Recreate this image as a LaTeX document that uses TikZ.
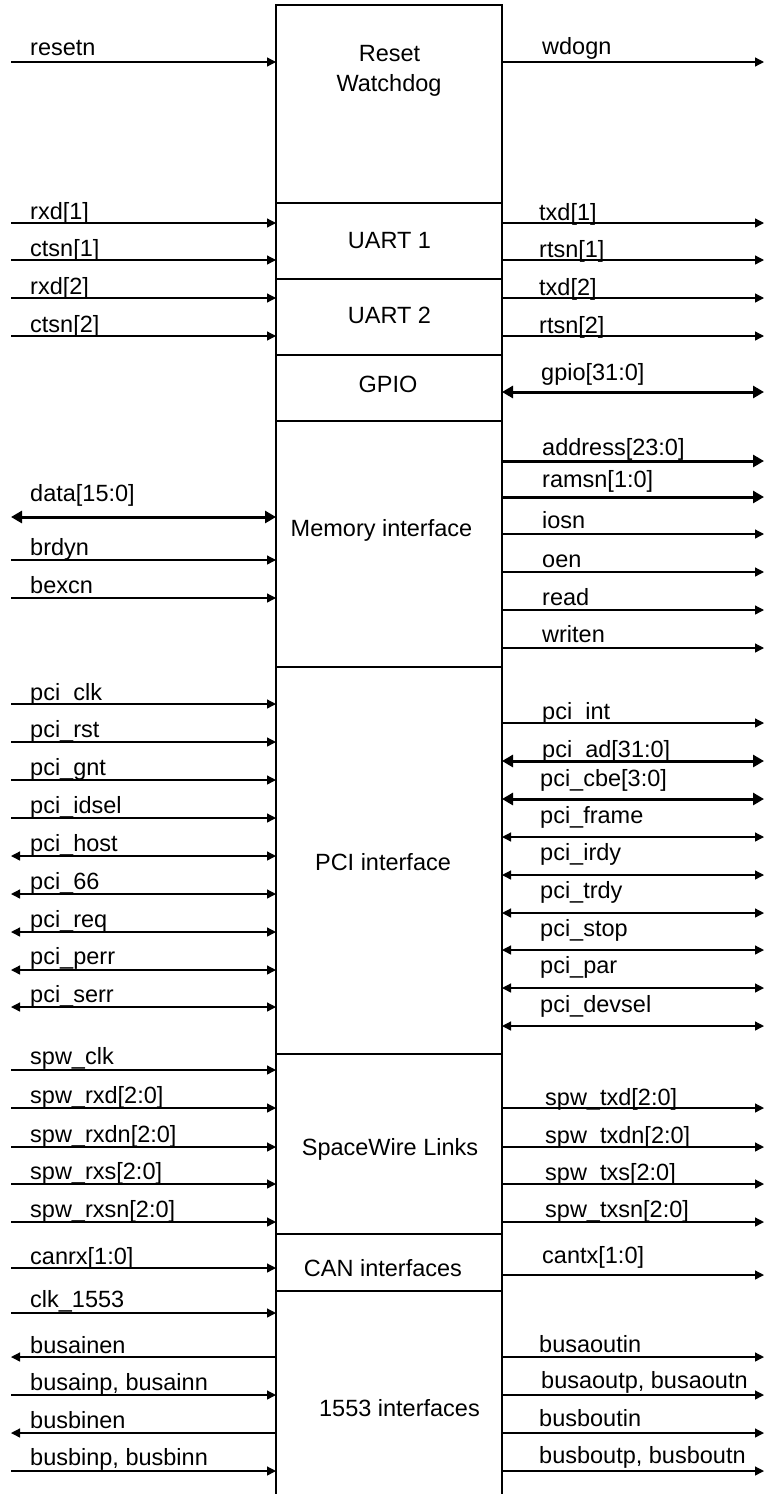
\documentclass[tikz,border=0pt]{standalone}
\usepackage{fontspec}
\setmainfont{Liberation Sans}
\usetikzlibrary{arrows.meta}
\begin{document}
\begin{tikzpicture}[x=1pt,y=-1pt,
  lbl/.style={anchor=base west, inner sep=0pt, font=\fontsize{23.5}{28}\selectfont},
  blk/.style={anchor=base, inner sep=0pt, font=\fontsize{23.5}{28}\selectfont},
  thinline/.style={line width=1.3pt},
  sigin/.style={thinline, -{Triangle[length=9pt,width=9pt]}},
  sigout/.style={thinline, {Triangle[length=9pt,width=9pt]}-},
  sigbi/.style={thinline, {Triangle[length=9pt,width=9pt]}-{Triangle[length=9pt,width=9pt]}},
  sigtb/.style={line width=3pt, {Triangle[length=11pt,width=12pt]}-{Triangle[length=11pt,width=12pt]}},
  sigto/.style={line width=3pt, -{Triangle[length=11pt,width=12pt]}},
  frame/.style={line width=2.5pt},
  divider/.style={line width=1.3pt},
]
\useasboundingbox (0,0) rectangle (764,1494);

% left side signals
\foreach \y/\b/\t/\s [count=\n] in {
  62/55/resetn/sigin,
  223/219/rxd[1]/sigin,
  260/256.5/ctsn[1]/sigin,
  298/294/rxd[2]/sigin,
  336/332/ctsn[2]/sigin,
  517/501/data[15:0]/sigtb,
  560/555/brdyn/sigin,
  598/593/bexcn/sigin,
  704/700/pci\_clk/sigin,
  742/737/pci\_rst/sigin,
  780/775/pci\_gnt/sigin,
  818/813/pci\_idsel/sigin,
  856/851/pci\_host/sigbi,
  894/889/pci\_66/sigbi,
  932/927/pci\_req/sigbi,
  970/964/pci\_perr/sigbi,
  1007/1002/pci\_serr/sigbi,
  1070/1064/spw\_clk/sigin,
  1108/1103/spw\_rxd[2:0]/sigin,
  1147/1142/spw\_rxdn[2:0]/sigin,
  1184/1179/spw\_rxs[2:0]/sigin,
  1222/1217/spw\_rxsn[2:0]/sigin,
  1268/1264/canrx[1:0]/sigin,
  1313/1307/clk\_1553/sigin,
  1357/1353/busainen/sigout,
  1395/1390/{busainp, busainn}/sigin,
  1433/1428/busbinen/sigout,
  1471/1465/{busbinp, busbinn}/sigin}
{
  \coordinate (LA\n) at (11,\y);
  \coordinate (LB\n) at (276,\y);
  \draw[\s] (LA\n) -- (LB\n);
  \node[lbl] (LL\n) at (30,\b) {\t};
}

% right side signals
\foreach \y/\b/\x/\t/\s [count=\n] in {
  62/54.5/542/wdogn/sigin,
  223/220/539/txd[1]/sigin,
  260/257.5/539/rtsn[1]/sigin,
  298/295/539/txd[2]/sigin,
  336/333/539/rtsn[2]/sigin,
  392/380/541/gpio[31:0]/sigtb,
  461/455/542/address[23:0]/sigto,
  497/487/542/ramsn[1:0]/sigto,
  534/528/542/iosn/sigin,
  572/567/542/oen/sigin,
  610/605/542/read/sigin,
  648/642/542/writen/sigin,
  723/719/542/pci\_int/sigin,
  761/757/542/pci\_ad[31:0]/sigtb,
  799/786/540/pci\_cbe[3:0]/sigtb,
  837/823/540/pci\_frame/sigbi,
  875/860/540/pci\_irdy/sigbi,
  913/898/540/pci\_trdy/sigbi,
  950/936/540/pci\_stop/sigbi,
  988/973/540/pci\_par/sigbi,
  1026/1012/540/pci\_devsel/sigbi,
  1108/1105/545/spw\_txd[2:0]/sigin,
  1147/1143/545/spw\_txdn[2:0]/sigin,
  1184/1180/545/spw\_txs[2:0]/sigin,
  1222/1217/545/spw\_txsn[2:0]/sigin,
  1275/1263/542/cantx[1:0]/sigin,
  1357/1352/539/busaoutin/sigin,
  1395/1388/541/{busaoutp, busaoutn}/sigin,
  1433/1426/539/busboutin/sigin,
  1471/1463/539/{busboutp, busboutn}/sigin}
{
  \coordinate (RA\n) at (502,\y);
  \coordinate (RB\n) at (764,\y);
  \draw[\s] (RA\n) -- (RB\n);
  \node[lbl] (RL\n) at (\x,\b) {\t};
}

% section dividers
\foreach \y in {203,279,355,421,667,1054,1234,1291}
  \draw[divider] (276,\y) -- (502,\y);

% block frame
\draw[frame] (276,1496) -- (276,5) -- (502,5) -- (502,1496);

% section labels
\node[blk] (rst1) at (389.5,61) {Reset};
\node[blk] (rst2) at (389,91) {Watchdog};
\node[blk] (uart1) at (389.5,248) {UART 1};
\node[blk] (uart2) at (389.5,323) {UART 2};
\node[blk] (gpio) at (388,392) {GPIO};
\node[blk] (mem) at (381.5,536) {Memory interface};
\node[blk] (pci) at (383,870) {PCI interface};
\node[blk] (spw) at (390,1155) {SpaceWire Links};
\node[blk] (can) at (383,1276) {CAN interfaces};
\node[blk] (mil) at (399.5,1416) {1553 interfaces};
\end{tikzpicture}
\end{document}
